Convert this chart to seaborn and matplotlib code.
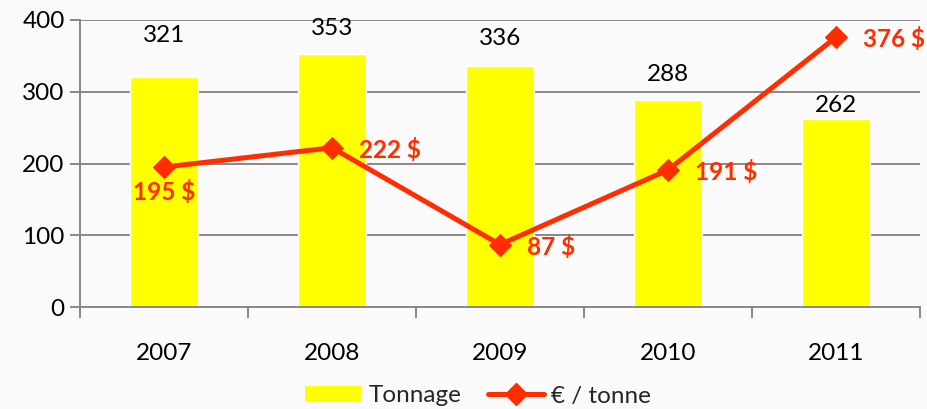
import matplotlib
matplotlib.use("Agg")
import matplotlib.pyplot as plt
import seaborn as sns
from matplotlib.patches import Patch
from matplotlib.lines import Line2D

# Data
years = ["2007", "2008", "2009", "2010", "2011"]
tonnage = [321, 353, 336, 288, 262]
prix = [195, 222, 87, 191, 376]

# label placement (pixels above bar top / red label side)
bar_label_offsets = [41, 25, 27, 26, 14]
price_label_below = [True, False, False, False, False]

YELLOW = "#ffff00"
RED = "#ff2d00"
GREY = "#878787"
FS = 17.5

sns.set_theme(style="white")
plt.rcParams["font.family"] = ["Lato", "DejaVu Sans"]

fig = plt.figure(figsize=(9.28, 4.09), dpi=100, facecolor="#fafafa")
ax = fig.add_axes([80 / 928, (409 - 307) / 409, 840 / 928, 287 / 409])
ax.set_facecolor("#fafafa")

sns.barplot(x=years, y=tonnage, color=YELLOW, width=0.4, saturation=1, ax=ax, zorder=2)
sns.lineplot(x=list(range(len(years))), y=prix, color=RED, linewidth=3.6,
             marker="D", markersize=11, markeredgecolor=RED, ax=ax, zorder=3)

# grid
ax.set_ylim(0, 400)
ax.set_xlim(-0.5, len(years) - 0.5)
ax.set_yticks([0, 100, 200, 300, 400])
ax.yaxis.grid(True, color=GREY, linewidth=1.4, zorder=1)
ax.set_axisbelow(True)
for s in ["top", "right"]:
    ax.spines[s].set_visible(False)
for s in ["left", "bottom"]:
    ax.spines[s].set_color(GREY)
    ax.spines[s].set_linewidth(1.4)

ax.tick_params(axis="y", length=7, width=1.4, color=GREY, left=True,
               labelsize=FS, pad=4, labelcolor="black")
ax.set_xticks(range(len(years)))
ax.set_xticklabels(years)
ax.set_xticks([i - 0.5 for i in range(len(years) + 1)], minor=True)
ax.tick_params(axis="x", which="major", length=0, labelsize=FS, pad=26, labelcolor="black")
ax.tick_params(axis="x", which="minor", length=8, width=1.4, color=GREY, bottom=True)
ax.set_xlabel("")
ax.set_ylabel("")

# bar value labels
for i, v in enumerate(tonnage):
    ax.annotate(str(v), (i, v), xytext=(0, bar_label_offsets[i]), textcoords="offset pixels",
                ha="center", va="center", fontsize=FS, color="black")

# price labels
for i, v in enumerate(prix):
    if price_label_below[i]:
        ax.annotate(f"{v} $", (i, v), xytext=(0, -25), textcoords="offset pixels",
                    ha="center", va="center", fontsize=FS, color=RED, fontweight="bold")
    else:
        ax.annotate(f"{v} $", (i, v), xytext=(27, -2), textcoords="offset pixels",
                    ha="left", va="center", fontsize=FS, color=RED, fontweight="bold")

handles = [Patch(facecolor=YELLOW, edgecolor="none"),
           Line2D([0], [0], color=RED, linewidth=3.6, marker="D", markersize=11)]
fig.legend(handles, ["Tonnage", "€ / tonne"], loc="center", bbox_to_anchor=(478 / 928, 13 / 409),
           ncol=2, frameon=False, fontsize=FS, handlelength=2.3, handleheight=0.65,
           columnspacing=1.1, handletextpad=0.3, borderpad=0)

fig.savefig("out.png", dpi=100, facecolor=fig.get_facecolor())
